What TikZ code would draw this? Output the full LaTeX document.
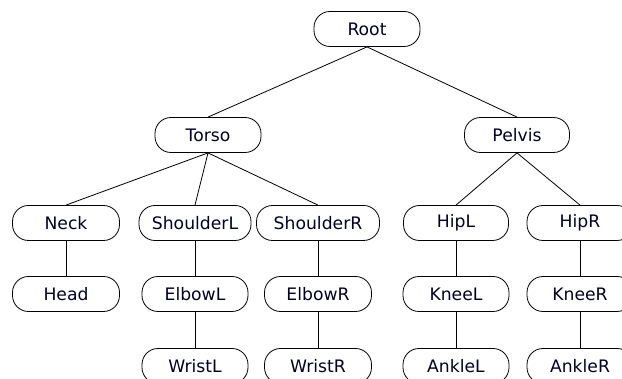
\documentclass[tikz,border=0pt]{standalone}
\usepackage{fontspec}
\setmainfont{DejaVu Sans}
\begin{document}
\begin{tikzpicture}[x=1pt,y=-1pt,
  joint/.style={draw, line width=0.8pt, rounded corners=16pt, minimum height=35pt,
    minimum width=106pt, inner sep=0pt, font=\fontsize{17.2}{19}\selectfont, text=black!85!blue},
  bone/.style={line width=0.8pt}]
\useasboundingbox (0,0) rectangle (622,379);
% upper levels
\node[joint] (root)   at (367,29)  {Root};
\node[joint] (torso)  at (208,135) {Torso};
\node[joint, minimum width=105pt] (pelvis) at (517,135) {Pelvis};
% third level
\node[joint, minimum width=107pt] (neck) at (66,223)  {Neck};
\node[joint, minimum width=112pt] (shl)  at (195,223) {ShoulderL};
\node[joint, minimum width=123pt] (shr)  at (318,223) {ShoulderR};
\node[joint, minimum width=105pt] (hipl) at (456,223) {HipL};
\node[joint, minimum width=106pt] (hipr) at (580,223) {HipR};
% fourth level
\node[joint, minimum width=107pt] (head)  at (66,294)  {Head};
\node[joint] (elbl)  at (195,294) {ElbowL};
\node[joint, minimum width=107pt] (elbr)  at (318,294) {ElbowR};
\node[joint] (kneel) at (456,294) {KneeL};
\node[joint] (kneer) at (580,294) {KneeR};
% fifth level
\node[joint] (wrl) at (195,366) {WristL};
\node[joint, minimum width=107pt] (wrr) at (318,366) {WristR};
\node[joint] (ankl) at (456,366) {AnkleL};
\node[joint] (ankr) at (580,366) {AnkleR};
% hierarchy links
\draw[bone] (root.south) -- (torso.north);
\draw[bone] (root.south) -- (pelvis.north);
\draw[bone] (torso.south) -- (neck.north);
\draw[bone] (torso.south) -- (shl.north);
\draw[bone] (torso.south) -- (shr.north);
\draw[bone] (pelvis.south) -- (hipl.north);
\draw[bone] (pelvis.south) -- (hipr.north);
\draw[bone] (neck.south) -- (head.north);
\draw[bone] (shl.south) -- (elbl.north);
\draw[bone] (elbl.south) -- (wrl.north);
\draw[bone] (shr.south) -- (elbr.north);
\draw[bone] (elbr.south) -- (wrr.north);
\draw[bone] (hipl.south) -- (kneel.north);
\draw[bone] (kneel.south) -- (ankl.north);
\draw[bone] (hipr.south) -- (kneer.north);
\draw[bone] (kneer.south) -- (ankr.north);
\end{tikzpicture}
\end{document}
